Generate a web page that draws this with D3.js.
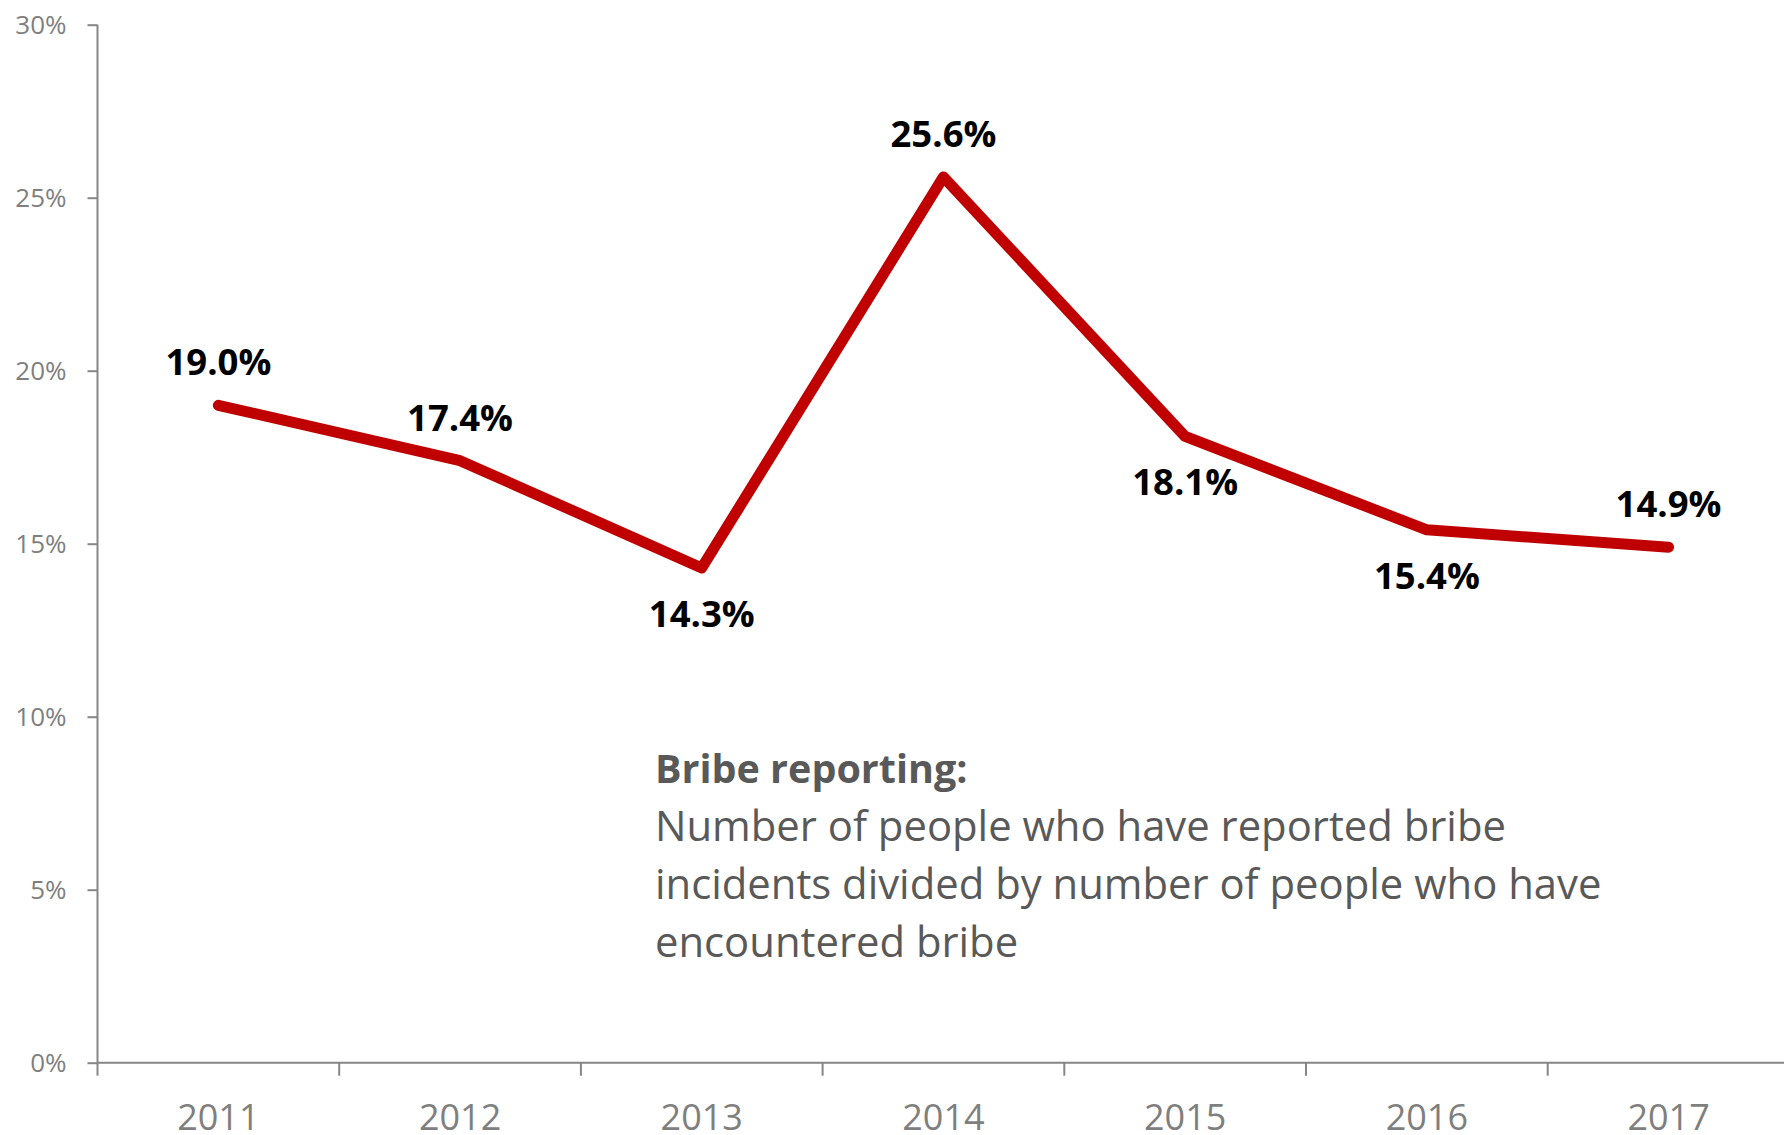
<!DOCTYPE html>
<html>
<head>
<meta charset="utf-8">
<script src="https://cdn.jsdelivr.net/npm/d3@7"></script>
<style>
  html, body { margin: 0; padding: 0; background: #ffffff; }
  svg { display: block; }
  text { font-family: "Open Sans", "Noto Sans", sans-serif; }
</style>
</head>
<body>
<svg id="chart" width="1784" height="1135"></svg>
<script>
// Share of bribe encounters that were reported, by year
const years = ["2011", "2012", "2013", "2014", "2015", "2016", "2017"];
const reportingRate = [19.0, 17.4, 14.3, 25.6, 18.1, 15.4, 14.9];
const labelSide = ["above", "above", "below", "above", "below", "below", "above"];
const yTicks = [0, 5, 10, 15, 20, 25, 30];
const noteTitle = "Bribe reporting:";
const noteLines = [
  "Number of people who have reported bribe",
  "incidents divided by number of people who have",
  "encountered bribe"
];

const svg = d3.select("#chart");
const plotLeft = 97.5, plotTop = 24.7, plotBottom = 1062.7, bandW = 241.7;

const x = d3.scaleBand().domain(years).range([plotLeft, plotLeft + bandW * years.length]).padding(0);
const y = d3.scaleLinear().domain([0, 30]).range([plotBottom, plotTop]);

const axisColor = "#868686";
const tickTextColor = "#7f7f7f";

// Y axis
const yAxis = svg.append("g")
  .attr("transform", `translate(${plotLeft},0)`)
  .call(d3.axisLeft(y).tickValues(yTicks).tickSize(10).tickPadding(21).tickFormat(d => d + "%"));
yAxis.select(".domain").attr("stroke", axisColor).attr("stroke-width", 2)
  .attr("d", `M0,${y(0)}V${y(30)}`);
yAxis.selectAll(".tick line").attr("stroke", axisColor).attr("stroke-width", 2);
yAxis.selectAll(".tick text")
  .attr("fill", tickTextColor)
  .attr("font-size", 26)
  .attr("font-family", "'Open Sans', sans-serif");

// X axis: labels centred in each band, tick marks on the band edges
const xAxis = svg.append("g")
  .attr("transform", `translate(0,${plotBottom})`)
  .call(d3.axisBottom(x).tickSize(0).tickPadding(0));
xAxis.select(".domain").attr("stroke", axisColor).attr("stroke-width", 2)
  .attr("d", `M${plotLeft},0H1784`);
xAxis.selectAll(".tick text")
  .attr("fill", tickTextColor)
  .attr("font-size", 36)
  .attr("font-family", "'Open Sans', sans-serif")
  .attr("dy", null)
  .attr("y", 67.5);

svg.append("g").selectAll("line")
  .data(years)
  .join("line")
  .attr("x1", d => x(d)).attr("x2", d => x(d))
  .attr("y1", plotBottom).attr("y2", plotBottom + 13)
  .attr("stroke", axisColor).attr("stroke-width", 2);

// Series line
const pts = years.map((yr, i) => ({ yr, v: reportingRate[i], side: labelSide[i] }));
const line = d3.line()
  .x(d => x(d.yr) + x.bandwidth() / 2)
  .y(d => y(d.v));

svg.append("path")
  .datum(pts)
  .attr("d", line)
  .attr("fill", "none")
  .attr("stroke", "#c00000")
  .attr("stroke-width", 11)
  .attr("stroke-linecap", "round")
  .attr("stroke-linejoin", "round");

// Value labels
svg.append("g").selectAll("text")
  .data(pts)
  .join("text")
  .attr("x", d => x(d.yr) + x.bandwidth() / 2)
  .attr("y", d => y(d.v) + (d.side === "above" ? -30 : 59))
  .attr("text-anchor", "middle")
  .attr("font-size", 36.5)
  .attr("font-weight", 700)
  .attr("fill", "#000000")
  .text(d => d.v.toFixed(1) + "%");

// Definition note
const note = svg.append("text")
  .attr("x", 655)
  .attr("y", 783)
  .attr("font-size", 41.8)
  .attr("fill", "#595959");
note.append("tspan").attr("font-weight", 700).attr("font-size", 39.5).text(noteTitle);
noteLines.forEach((t, i) => {
  note.append("tspan").attr("x", 655).attr("y", 841 + i * 58).text(t);
});
</script>
</body>
</html>
